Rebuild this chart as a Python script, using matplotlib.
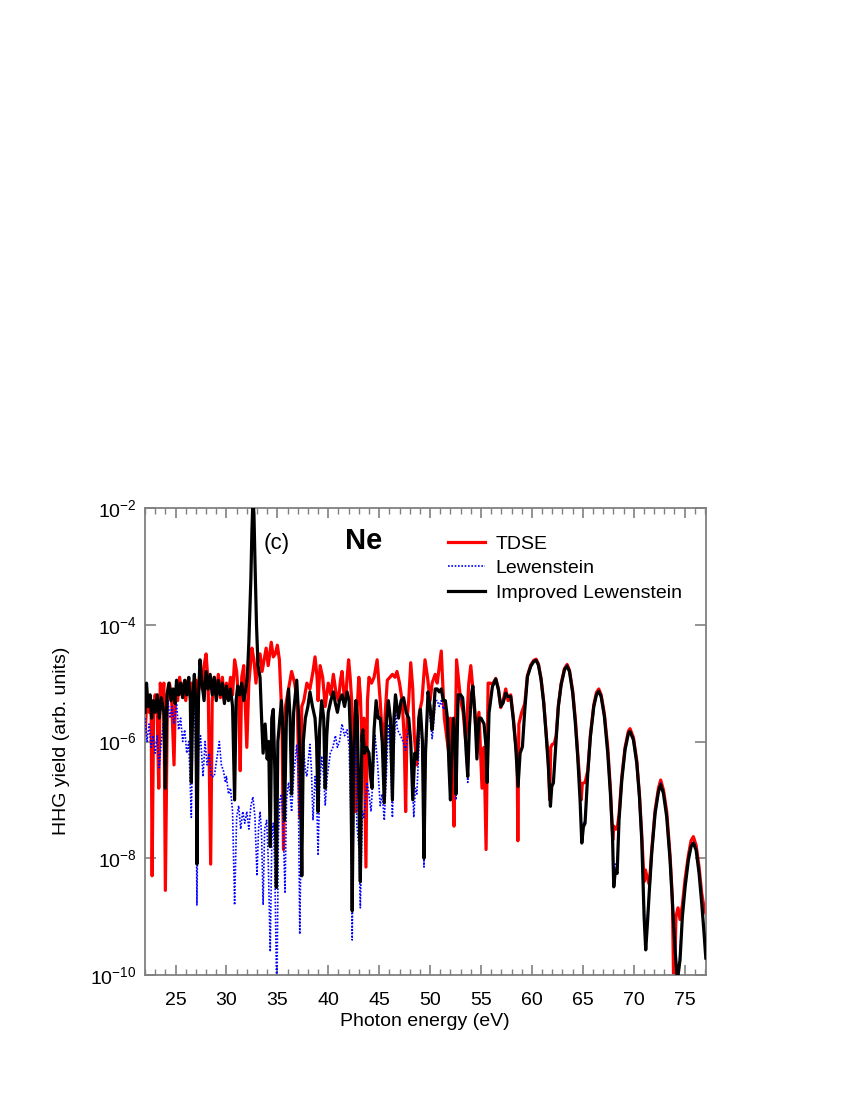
import numpy as np
import matplotlib
matplotlib.use("Agg")
import matplotlib.pyplot as plt
from matplotlib.ticker import FixedLocator, MultipleLocator, LogFormatterMathtext, NullLocator

plt.rcParams['font.family'] = ['Liberation Sans', 'DejaVu Sans']
plt.rcParams['mathtext.fontset'] = 'custom'
plt.rcParams['mathtext.rm'] = 'Liberation Sans'
plt.rcParams['mathtext.it'] = 'Liberation Sans:italic'
plt.rcParams['mathtext.bf'] = 'Liberation Sans:bold'

# ---------------- data (photon energy in eV, log10 of HHG yield) ----------------
tdse_energy = [22.0, 22.2, 22.4, 22.6, 22.7, 22.85, 23.0, 23.2, 23.35, 23.5, 23.7, 23.85, 24.0, 24.2, 24.4, 24.6,
               24.85, 25.0, 25.2, 25.4, 25.6, 25.8, 26.0, 26.2, 26.4, 26.6, 26.8, 27.0, 27.2, 27.4, 27.6, 27.8,
               28.0, 28.2, 28.45, 28.6, 28.8, 29.0, 29.2, 29.4, 29.6, 29.8, 30.0, 30.2, 30.4, 30.6, 30.8, 31.0,
               31.2, 31.35, 31.5, 31.7, 31.85, 32.0, 32.2, 32.5, 32.7, 32.9, 33.1, 33.3, 33.5, 33.7, 33.9, 34.1,
               34.4, 34.6, 34.8, 35.0, 35.2, 35.45, 35.6, 35.8, 36.1, 36.4, 36.7, 36.95, 37.2, 37.4, 37.6, 37.9,
               38.2, 38.5, 38.7, 38.9, 39.0, 39.2, 39.45, 39.7, 40.0, 40.25, 40.5, 40.75, 41.0, 41.2, 41.35, 41.55,
               41.7, 41.85, 42.0, 42.15, 42.3, 42.5, 42.7, 42.85, 43.0, 43.15, 43.3, 43.5, 43.7, 43.85, 44.0, 44.25,
               44.5, 44.8, 45.1, 45.4, 45.6, 45.8, 46.05, 46.3, 46.55, 46.75, 47.0, 47.25, 47.45, 47.6, 47.75, 47.9,
               48.1, 48.3, 48.45, 48.7, 48.95, 49.2, 49.5, 49.75, 50.0, 50.2, 50.5, 50.7, 51.1, 51.4, 51.8, 52.0,
               52.2, 52.35, 52.6, 53.0, 53.25, 53.5, 53.8, 54.0, 54.25, 54.5, 54.8, 55.1, 55.3, 55.5,
               55.7, 55.9, 56.12, 56.45, 56.71, 56.94, 57.17, 57.43, 57.66, 57.92, 58.18, 58.41, 58.55, 58.62, 58.72, 59.0,
               59.3, 59.56, 59.89, 60.18, 60.41, 60.64, 60.9, 61.16, 61.39, 61.6, 61.75, 61.85, 62.0, 62.2, 62.38, 62.6,
               62.87, 63.2, 63.46, 63.69, 64.01, 64.27, 64.5, 64.73, 64.85, 64.95, 65.22, 65.49, 65.75, 66.08, 66.34, 66.57,
               66.8, 67.12, 67.45, 67.71, 67.94, 68.05, 68.2, 68.37, 68.56, 68.83, 69.15, 69.48, 69.64, 69.97, 70.3, 70.56,
               70.79, 71.02, 71.15, 71.35, 71.54, 71.77, 72.1, 72.43, 72.65, 72.92, 73.24, 73.57, 73.8, 73.95, 74.15, 74.35,
               74.55, 74.78, 75.05, 75.37, 75.63, 75.86, 76.13, 76.42, 76.68, 76.91, 77.1]
tdse_log10 = [-5.9, -5.2, -5.5, -5.3, -8.3, -5.4, -5.2, -5.5, -6.8, -5.0, -5.3, -5.0, -8.55, -5.3, -5.0, -5.2,
              -6.4, -5.1, -5.3, -4.9, -5.2, -5.0, -5.3, -4.95, -5.2, -5.0, -5.3, -4.95, -5.2, -4.8, -5.1, -4.7,
              -4.5, -5.0, -8.1, -5.3, -4.9, -5.2, -4.85, -5.25, -4.9, -5.3, -5.0, -5.2, -4.9, -5.2, -4.6, -4.8,
              -5.3, -6.5, -4.9, -4.7, -5.4, -6.1, -5.0, -4.4, -4.6, -5.0, -4.55, -4.5, -4.8, -4.6, -4.4, -4.7,
              -4.3, -4.55, -4.5, -4.35, -4.6, -5.6, -7.85, -5.4, -5.1, -4.8, -5.0, -5.3, -7.3, -5.4, -5.3, -5.0,
              -5.1, -4.8, -4.55, -4.9, -5.3, -4.7, -4.9, -5.4, -5.0, -5.2, -4.85, -5.15, -5.3, -4.95, -4.8, -5.2,
              -5.3, -4.9, -4.6, -4.9, -5.3, -6.2, -7.2, -5.4, -4.9, -5.2, -6.0, -5.6, -8.15, -5.3, -4.9, -5.0,
              -4.9, -4.6, -5.3, -6.2, -5.5, -4.95, -4.9, -4.85, -4.9, -4.8, -5.0, -5.3, -5.9, -7.2, -5.6, -5.3,
              -4.65, -5.1, -5.9, -6.4, -5.5, -5.3, -4.6, -4.9, -5.3, -5.0, -4.85, -5.0, -4.45, -5.6, -6.15, -5.6,
              -6.4, -7.45, -4.6, -5.3, -5.5, -6.0, -5.0, -4.7, -5.2, -5.8, -5.5, -6.8, -6.1, -7.85,
              -5.0, -5.0, -5.02, -4.92, -5.1, -5.42, -5.3, -5.1, -5.3, -5.2, -5.6, -6.05, -6.3, -7.7, -5.7, -5.5,
              -5.35, -4.87, -4.69, -4.61, -4.59, -4.67, -4.92, -5.32, -5.84, -6.3, -7.0, -6.1, -6.05, -6.03, -5.9, -5.38,
              -5.01, -4.75, -4.68, -4.78, -5.14, -5.62, -6.2, -6.75, -7.0, -6.72, -6.7, -6.5, -5.88, -5.37, -5.16, -5.1,
              -5.2, -5.53, -6.1, -6.8, -7.69, -7.45, -7.5, -7.5, -7.25, -6.6, -6.1, -5.82, -5.78, -5.93, -6.33, -6.9,
              -7.6, -8.4, -8.2, -8.35, -8.45, -7.85, -7.18, -6.8, -6.66, -6.83, -7.2, -7.95, -8.7, -10.5, -9.0, -8.85,
              -9.05, -8.8, -8.35, -7.95, -7.7, -7.63, -7.78, -8.15, -8.6, -8.85, -8.95]

lew_energy = [22.0, 22.2, 22.4, 22.6, 22.8, 23.0, 23.2, 23.4, 23.6, 23.8, 24.0, 24.25, 24.45, 24.65, 24.85, 25.1,
              25.3, 25.5, 25.7, 25.9, 26.1, 26.3, 26.55, 26.7, 26.85, 27.0, 27.1, 27.25, 27.45, 27.7, 27.9, 28.1,
              28.3, 28.5, 28.8, 29.05, 29.3, 29.5, 29.7, 29.9, 30.0, 30.2, 30.4, 30.6, 30.8, 31.0, 31.2, 31.4,
              31.6, 31.8, 32.0, 32.2, 32.4, 32.6, 32.8, 33.0, 33.15, 33.3, 33.45, 33.6, 33.75, 33.95, 34.1, 34.3,
              34.45, 34.6, 34.75, 34.95, 35.1, 35.25, 35.4, 35.55, 35.75, 35.9, 36.1, 36.25, 36.4, 36.6, 36.9, 37.05,
              37.2, 37.4, 37.55, 37.75, 37.9, 38.05, 38.2, 38.35, 38.5, 38.7, 38.85, 39.0, 39.15, 39.35, 39.55, 39.7,
              39.9, 40.2, 40.45, 40.7, 40.9, 41.1, 41.35, 41.6, 41.85, 42.05, 42.2, 42.35, 42.5, 42.7, 42.8, 43.0,
              43.15, 43.35, 43.5, 43.8, 44.0, 44.2, 44.4, 44.6, 44.85, 45.1, 45.3, 45.5, 45.7, 45.9, 46.1, 46.3,
              46.45, 46.6, 46.8, 47.1, 47.35, 47.6, 47.9, 48.15, 48.4, 48.55, 48.7, 48.9, 49.05, 49.25, 49.4, 49.55,
              49.8, 50.0, 50.2, 50.35, 50.5, 50.7, 50.9, 51.1, 51.3, 51.5, 51.7, 51.85, 52.0, 52.15, 52.3, 52.45,
              52.55, 52.75, 53.0, 53.2, 53.4, 53.55, 53.7, 53.85, 54.05, 54.2, 54.4, 54.6, 54.8, 55.0, 55.3, 55.5,
              55.6,
              55.79, 56.12, 56.45, 56.71, 56.94, 57.17, 57.43, 57.66, 57.92, 58.18, 58.41, 58.64, 58.84, 59.07, 59.3, 59.56,
              59.89, 60.18, 60.41, 60.64, 60.9, 61.16, 61.39, 61.62, 61.82, 61.95, 62.11, 62.38, 62.6, 62.87, 63.2, 63.46,
              63.69, 64.01, 64.27, 64.5, 64.73, 64.9, 65.06, 65.22, 65.49, 65.75, 66.08, 66.34, 66.57, 66.8, 67.12, 67.45,
              67.71, 67.91, 68.04, 68.2, 68.37, 68.56, 68.83, 69.15, 69.48, 69.64, 69.97, 70.3, 70.56, 70.79, 71.02, 71.18,
              71.35, 71.54, 71.77, 72.1, 72.43, 72.65, 72.92, 73.24, 73.57, 73.83, 74.06, 74.29, 74.55, 74.78, 75.05, 75.37,
              75.63, 75.86, 76.13, 76.42, 76.68, 76.91, 77.08]
lew_log10 = [-5.6, -6.0, -5.7, -6.1, -5.9, -6.2, -5.9, -6.45, -6.0, -5.7, -5.9, -5.3, -5.6, -5.4, -5.7, -5.35,
             -5.8, -5.6, -6.0, -5.8, -6.2, -6.0, -7.3, -5.7, -5.3, -6.5, -8.8, -6.2, -5.9, -6.6, -6.0, -6.4,
             -6.2, -6.6, -6.6, -6.3, -6.0, -6.4, -6.5, -6.7, -6.6, -6.9, -6.8, -7.2, -8.8, -7.3, -7.1, -7.5,
             -7.2, -7.4, -7.2, -7.5, -7.1, -6.95, -7.3, -8.3, -7.5, -7.2, -7.6, -8.8, -7.5, -7.35, -8.0, -9.6,
             -7.7, -7.4, -8.2, -10.5, -7.6, -7.0, -6.9, -7.3, -8.6, -7.0, -6.7, -6.9, -7.2, -6.6, -6.05, -6.6,
             -9.3, -6.8, -6.05, -6.5, -6.6, -6.3, -6.05, -6.5, -7.35, -6.6, -6.9, -7.95, -6.8, -6.25, -6.6, -7.1,
             -6.6, -6.2, -6.1, -5.9, -6.1, -6.0, -5.7, -5.9, -5.8, -6.1, -7.2, -9.4, -7.0, -5.75, -7.4, -7.8,
             -8.85, -7.2, -7.3, -6.7, -6.9, -7.2, -6.6, -5.9, -6.4, -7.1, -6.9, -7.35, -6.6, -5.7, -6.2, -7.3,
             -6.2, -5.5, -5.8, -5.9, -6.0, -6.15, -5.75, -6.2, -7.3, -6.8, -6.9, -6.1, -5.5, -6.2, -8.15, -6.4,
             -5.3, -5.6, -5.95, -5.7, -5.3, -5.3, -5.4, -5.3, -5.45, -5.4, -5.7, -6.5, -7.0, -6.2, -5.7, -6.1,
             -7.0, -5.3, -5.25, -5.3, -5.8, -6.3, -6.7, -5.9, -5.3, -5.1, -5.6, -6.3, -5.6, -5.6, -5.7, -6.1,
             -6.7,
             -5.5, -5.05, -4.92, -5.1, -5.38, -5.33, -5.16, -5.22, -5.22, -5.62, -6.07, -6.75, -6.18, -6.07, -5.45, -4.88,
             -4.7, -4.62, -4.6, -4.68, -4.93, -5.33, -5.85, -6.41, -7.05, -6.75, -6.69, -5.96, -5.39, -5.02, -4.76, -4.69,
             -4.79, -5.16, -5.68, -6.24, -6.97, -7.6, -7.4, -7.35, -6.52, -5.9, -5.39, -5.18, -5.12, -5.21, -5.55, -6.18,
             -6.86, -7.5, -8.3, -8.1, -8.15, -7.3, -6.64, -6.12, -5.84, -5.81, -5.95, -6.35, -6.91, -7.65, -8.8, -9.35,
             -9.0, -8.5, -7.88, -7.21, -6.84, -6.71, -6.87, -7.27, -8.0, -8.75, -9.4, -10.2, -9.6, -8.95, -8.45, -8.0,
             -7.77, -7.71, -7.83, -8.23, -8.74, -9.25, -9.65]

imp_energy = [22.0, 22.15, 22.3, 22.5, 22.65, 22.8, 23.0, 23.2, 23.4, 23.6, 23.85, 24.0, 24.15, 24.35, 24.55, 24.75,
              24.95, 25.1, 25.3, 25.5, 25.7, 25.9, 26.1, 26.3, 26.45, 26.55, 26.7, 26.85, 27.0, 27.1, 27.25, 27.4,
              27.6, 27.8, 28.0, 28.2, 28.4, 28.6, 28.8, 29.0, 29.2, 29.4, 29.6, 29.8, 30.0, 30.2, 30.4, 30.6,
              30.8, 30.95, 31.1, 31.3, 31.5, 31.7, 31.9, 32.05, 32.2, 32.4, 32.5, 32.6, 32.7, 32.8, 32.95, 33.1,
              33.3, 33.45, 33.6, 33.8, 34.0, 34.15, 34.3, 34.45, 34.6, 34.75, 34.9, 35.05, 35.25, 35.4, 35.55, 35.7,
              35.9, 36.1, 36.25, 36.4, 36.6, 36.9, 37.1, 37.25, 37.4, 37.55, 37.75, 38.0, 38.2, 38.45, 38.7, 38.85,
              39.0, 39.15, 39.35, 39.55, 39.7, 39.85, 40.0, 40.25, 40.5, 40.7, 40.9, 41.1, 41.35, 41.6, 41.85, 42.05,
              42.2, 42.35, 42.5, 42.7, 42.85, 43.0, 43.15, 43.3, 43.4, 43.55, 43.75, 44.0, 44.15, 44.3, 44.5, 44.7,
              44.9, 45.1, 45.3, 45.5, 45.7, 45.9, 46.1, 46.3, 46.45, 46.6, 46.75, 46.9, 47.15, 47.4, 47.65, 47.9,
              48.1, 48.3, 48.5, 48.7, 48.9, 49.05, 49.25, 49.4, 49.55, 49.8, 50.0, 50.2, 50.35, 50.5, 50.7, 50.9,
              51.1, 51.3, 51.5, 51.7, 51.85, 52.0, 52.15, 52.3, 52.45, 52.55, 52.75, 53.0, 53.2, 53.4, 53.55, 53.7,
              53.85, 54.05, 54.2, 54.4, 54.6, 54.8, 55.0, 55.3, 55.5, 55.6,
              55.79, 56.12, 56.45, 56.71, 56.94, 57.17, 57.43, 57.66, 57.92, 58.18, 58.41, 58.64, 58.84, 59.07, 59.3, 59.56,
              59.89, 60.18, 60.41, 60.64, 60.9, 61.16, 61.39, 61.62, 61.82, 61.95, 62.11, 62.38, 62.6, 62.87, 63.2, 63.46,
              63.69, 64.01, 64.27, 64.5, 64.73, 64.9, 65.06, 65.22, 65.49, 65.75, 66.08, 66.34, 66.57, 66.8, 67.12, 67.45,
              67.71, 67.91, 68.04, 68.2, 68.37, 68.56, 68.83, 69.15, 69.48, 69.64, 69.97, 70.3, 70.56, 70.79, 71.02, 71.18,
              71.35, 71.54, 71.77, 72.1, 72.43, 72.65, 72.92, 73.24, 73.57, 73.83, 74.06, 74.29, 74.55, 74.78, 75.05, 75.37,
              75.63, 75.86, 76.13, 76.42, 76.68, 76.91, 77.08]
imp_log10 = [-5.5, -5.0, -5.4, -5.2, -5.6, -5.3, -5.5, -5.2, -5.6, -5.25, -5.5, -6.8, -5.2, -5.0, -5.3, -5.1,
             -5.35, -4.95, -5.2, -5.0, -5.25, -4.95, -5.2, -4.9, -5.3, -6.7, -5.2, -4.85, -5.4, -8.1, -5.3, -4.6,
             -5.0, -5.3, -4.8, -5.1, -4.85, -5.2, -4.9, -5.3, -4.95, -5.2, -5.0, -5.35, -5.05, -5.3, -5.1, -5.4,
             -7.0, -5.3, -5.05, -5.2, -5.0, -5.3, -5.1, -4.9, -4.3, -3.2, -2.4, -1.85, -2.1, -2.9, -4.0, -4.7,
             -4.9, -5.6, -6.2, -5.7, -6.3, -6.0, -7.8, -5.6, -5.45, -6.5, -8.5, -6.0, -5.6, -5.3, -5.8, -7.35,
             -5.5, -5.1, -5.6, -6.9, -5.5, -4.95, -5.6, -6.5, -8.3, -6.0, -5.6, -5.4, -5.15, -5.4, -5.6, -6.0,
             -7.2, -5.8, -5.3, -5.6, -6.8, -5.9, -5.5, -5.3, -5.15, -5.35, -5.5, -5.3, -5.2, -5.4, -5.15, -5.3,
             -6.0, -8.9, -6.2, -5.3, -5.6, -6.9, -8.4, -5.9, -5.8, -6.2, -6.1, -6.2, -6.6, -6.8, -5.8, -5.3,
             -5.6, -5.6, -6.0, -7.05, -5.7, -5.3, -5.6, -7.0, -5.6, -5.2, -5.4, -5.6, -5.3, -5.25, -5.5, -5.6,
             -6.0, -7.0, -6.2, -6.3, -5.6, -5.45, -6.0, -8.0, -6.2, -5.15, -5.4, -5.8, -5.5, -5.1, -5.1, -5.15,
             -5.1, -5.3, -5.3, -5.6, -6.4, -7.0, -6.1, -5.6, -6.0, -6.9, -5.2, -5.2, -5.25, -5.7, -6.2, -6.6,
             -5.8, -5.2, -5.05, -5.5, -6.3, -5.6, -5.6, -5.7, -6.1, -6.7,
             -5.51, -5.06, -4.93, -5.11, -5.4, -5.34, -5.17, -5.23, -5.23, -5.63, -6.09, -6.77, -6.2, -6.09, -5.46, -4.89,
             -4.71, -4.63, -4.61, -4.69, -4.94, -5.34, -5.86, -6.43, -7.11, -6.77, -6.71, -5.97, -5.4, -5.03, -4.77, -4.71,
             -4.8, -5.17, -5.69, -6.26, -7.0, -7.74, -7.46, -7.4, -6.54, -5.91, -5.4, -5.2, -5.14, -5.23, -5.57, -6.2,
             -6.89, -7.57, -8.49, -8.2, -8.26, -7.34, -6.66, -6.14, -5.86, -5.83, -5.97, -6.37, -6.94, -7.69, -9.0, -9.57,
             -9.11, -8.54, -7.91, -7.23, -6.86, -6.74, -6.89, -7.29, -8.03, -8.83, -9.57, -10.1, -9.74, -9.0, -8.49, -8.03,
             -7.8, -7.74, -7.86, -8.26, -8.77, -9.29, -9.71]

series_labels = ["TDSE", "Lewenstein", "Improved Lewenstein"]
x_ticks = [25, 30, 35, 40, 45, 50, 55, 60, 65, 70, 75]
y_ticks = [1e-10, 1e-8, 1e-6, 1e-4, 1e-2]

# ---------------- figure ----------------
W, H = 850, 1100
fig = plt.figure(figsize=(W / 100, H / 100), dpi=100)
ax = fig.add_axes([145 / W, 1 - 975 / H, (706 - 145) / W, (975 - 508) / H])

ax.plot(tdse_energy, 10.0 ** np.array(tdse_log10), color='#ff0000', lw=2.3, label=series_labels[0], zorder=2)
ax.plot(lew_energy, 10.0 ** np.array(lew_log10), color='#0000ff', lw=1.2, ls=(0, (1, 1)), label=series_labels[1], zorder=3)
ax.plot(imp_energy, 10.0 ** np.array(imp_log10), color='#000000', lw=2.3, label=series_labels[2], zorder=4)

ax.set_yscale('log')
ax.set_xlim(22.0, 77.1)
ax.set_ylim(1e-10, 1e-2)

spine_col = '#808080'
for s in ax.spines.values():
    s.set_color(spine_col)
    s.set_linewidth(1.3)

ax.xaxis.set_major_locator(FixedLocator(x_ticks))
ax.xaxis.set_minor_locator(MultipleLocator(1))
ax.yaxis.set_major_locator(FixedLocator(y_ticks))
ax.yaxis.set_major_formatter(LogFormatterMathtext())
ax.yaxis.set_minor_locator(NullLocator())

ax.tick_params(axis='both', which='both', direction='in', top=True, right=True, color=spine_col, labelsize=14)
ax.tick_params(axis='x', which='major', length=7, width=1.2, pad=12)
ax.tick_params(axis='x', which='minor', length=4, width=1.0)
ax.tick_params(axis='y', which='major', length=8, width=1.2, pad=6)

fig.text(425 / W, 1 - 1021 / H, "Photon energy (eV)", ha='center', va='center', fontsize=14)
fig.text(62 / W, 1 - 741 / H, "HHG yield (arb. units)", ha='center', va='center', rotation=90, fontsize=14)

fig.text(277 / W, 1 - 543 / H, "(c)", ha='center', va='center', fontsize=16)
fig.text(364 / W, 1 - 541 / H, "Ne", ha='center', va='center', fontsize=21, fontweight='bold')

leg = ax.legend(loc='upper left', bbox_to_anchor=(448 / W, 1 - 535 / H), bbox_transform=fig.transFigure,
                frameon=False, borderaxespad=0, borderpad=0, fontsize=14, handlelength=1.9,
                handletextpad=0.55, labelspacing=0.36)

fig.savefig("out.png", dpi=100)
